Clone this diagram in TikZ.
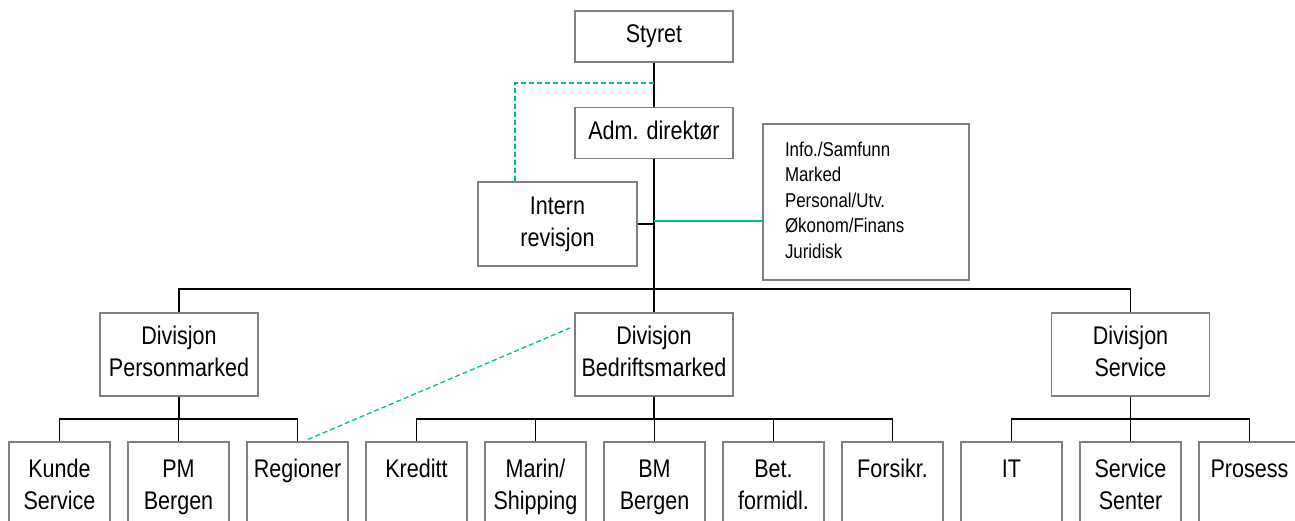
\documentclass[tikz,border=0pt]{standalone}
\usepackage{fontspec}
\setmainfont{Liberation Sans}[FakeStretch=0.845]
\usetikzlibrary{calc}
\definecolor{boxgray}{RGB}{128,128,128}
\definecolor{lineteal}{RGB}{0,190,140}
\newcommand{\twol}[2]{\strut #1\\\strut #2}
\tikzset{
  box/.style={draw=boxgray, line width=1.3pt, align=center, inner sep=0pt,
    font=\fontsize{25.5}{32}\selectfont},
  topbox/.style={box, minimum width=158, minimum height=51},
  divbox/.style={box, minimum width=158, minimum height=83},
  leafbox/.style={box, minimum width=101, minimum height=89.2},
  conn/.style={draw=black, line width=1.4pt},
  tealline/.style={draw=lineteal, line width=1.3pt},
  tealdash/.style={draw=lineteal, line width=1.3pt, dash pattern=on 5pt off 3pt}
}
\begin{document}
\begin{tikzpicture}[x=1pt, y=-1pt]
\useasboundingbox (0,0) rectangle (1295,521);
\clip (0,0) rectangle (1295,521);
% top
\node[topbox] (styret) at (654,36.5) {\strut Styret};
\node[topbox] (adm) at (654,133.3) {\strut Adm. direktør};
\node[box, minimum width=159, minimum height=84] (intern) at (557.5,224) {\twol{Intern}{revisjon}};
\node[box, minimum width=206, minimum height=156, text width=162, inner xsep=22,
  align=left, font=\fontsize{20}{25.5}\selectfont] (info) at (866,202)
  {\strut Info./Samfunn\\\strut Marked\\\strut Personal/Utv.\\\strut Økonom/Finans\\\strut Juridisk};
% divisions
\node[divbox] (dp) at (179,354.5) {\twol{Divisjon}{Personmarked}};
\node[divbox] (db) at (654,354.5) {\twol{Divisjon}{Bedriftsmarked}};
\node[divbox] (ds) at (1130.5,354.5) {\twol{Divisjon}{Service}};
% leaves
\node[leafbox] (kunde) at (59.5,486.6) {\twol{Kunde}{Service}};
\node[leafbox] (pmb) at (178.5,486.6) {\twol{PM}{Bergen}};
\node[leafbox] (reg) at (297.5,486.6) {\twol{Regioner}{}};
\node[leafbox] (kred) at (416.5,486.6) {\twol{Kreditt}{}};
\node[leafbox] (marin) at (535.5,486.6) {\twol{Marin/}{Shipping}};
\node[leafbox] (bmb) at (654.5,486.6) {\twol{BM}{Bergen}};
\node[leafbox] (bet) at (773.5,486.6) {\twol{Bet.}{formidl.}};
\node[leafbox] (fors) at (892.5,486.6) {\twol{Forsikr.}{}};
\node[leafbox] (it) at (1011.5,486.6) {\twol{IT}{}};
\node[leafbox] (ssent) at (1130.5,486.6) {\twol{Service}{Senter}};
\node[leafbox] (pros) at (1249.5,486.6) {\twol{Prosess}{}};
% helper coordinates
\coordinate (hub) at (654,289);
\coordinate (ir) at (654,224);
\coordinate (tg) at (654,221);
\coordinate (td) at (654,83);
% top connectors
\draw[conn] (styret.south) -- (adm.north);
\draw[conn] (adm.south) -- (hub);
\draw[conn] (intern.east) -- (ir);
\draw[conn] (hub) -| (dp.north);
\draw[conn] (hub) -| (ds.north);
\draw[conn] (hub) -- (db.north);
\draw[tealline] (tg) -- (tg -| info.west);
\draw[tealdash] (td) -| ($(intern.north)+(-42.5,0)$);
% leaf connectors
\foreach \c in {kunde,pmb,reg}{\draw[conn] (dp.south) -- ++(0,22.5) -| (\c.north);}
\foreach \c in {kred,marin,bmb,bet,fors}{\draw[conn] (db.south) -- ++(0,22.5) -| (\c.north);}
\foreach \c in {it,ssent,pros}{\draw[conn] (ds.south) -- ++(0,22.5) -| (\c.north);}
\draw[tealdash] ($(reg.north)+(10.5,-2)$) -- ($(db.west)+(-2,-27.5)$);
\end{tikzpicture}
\end{document}
